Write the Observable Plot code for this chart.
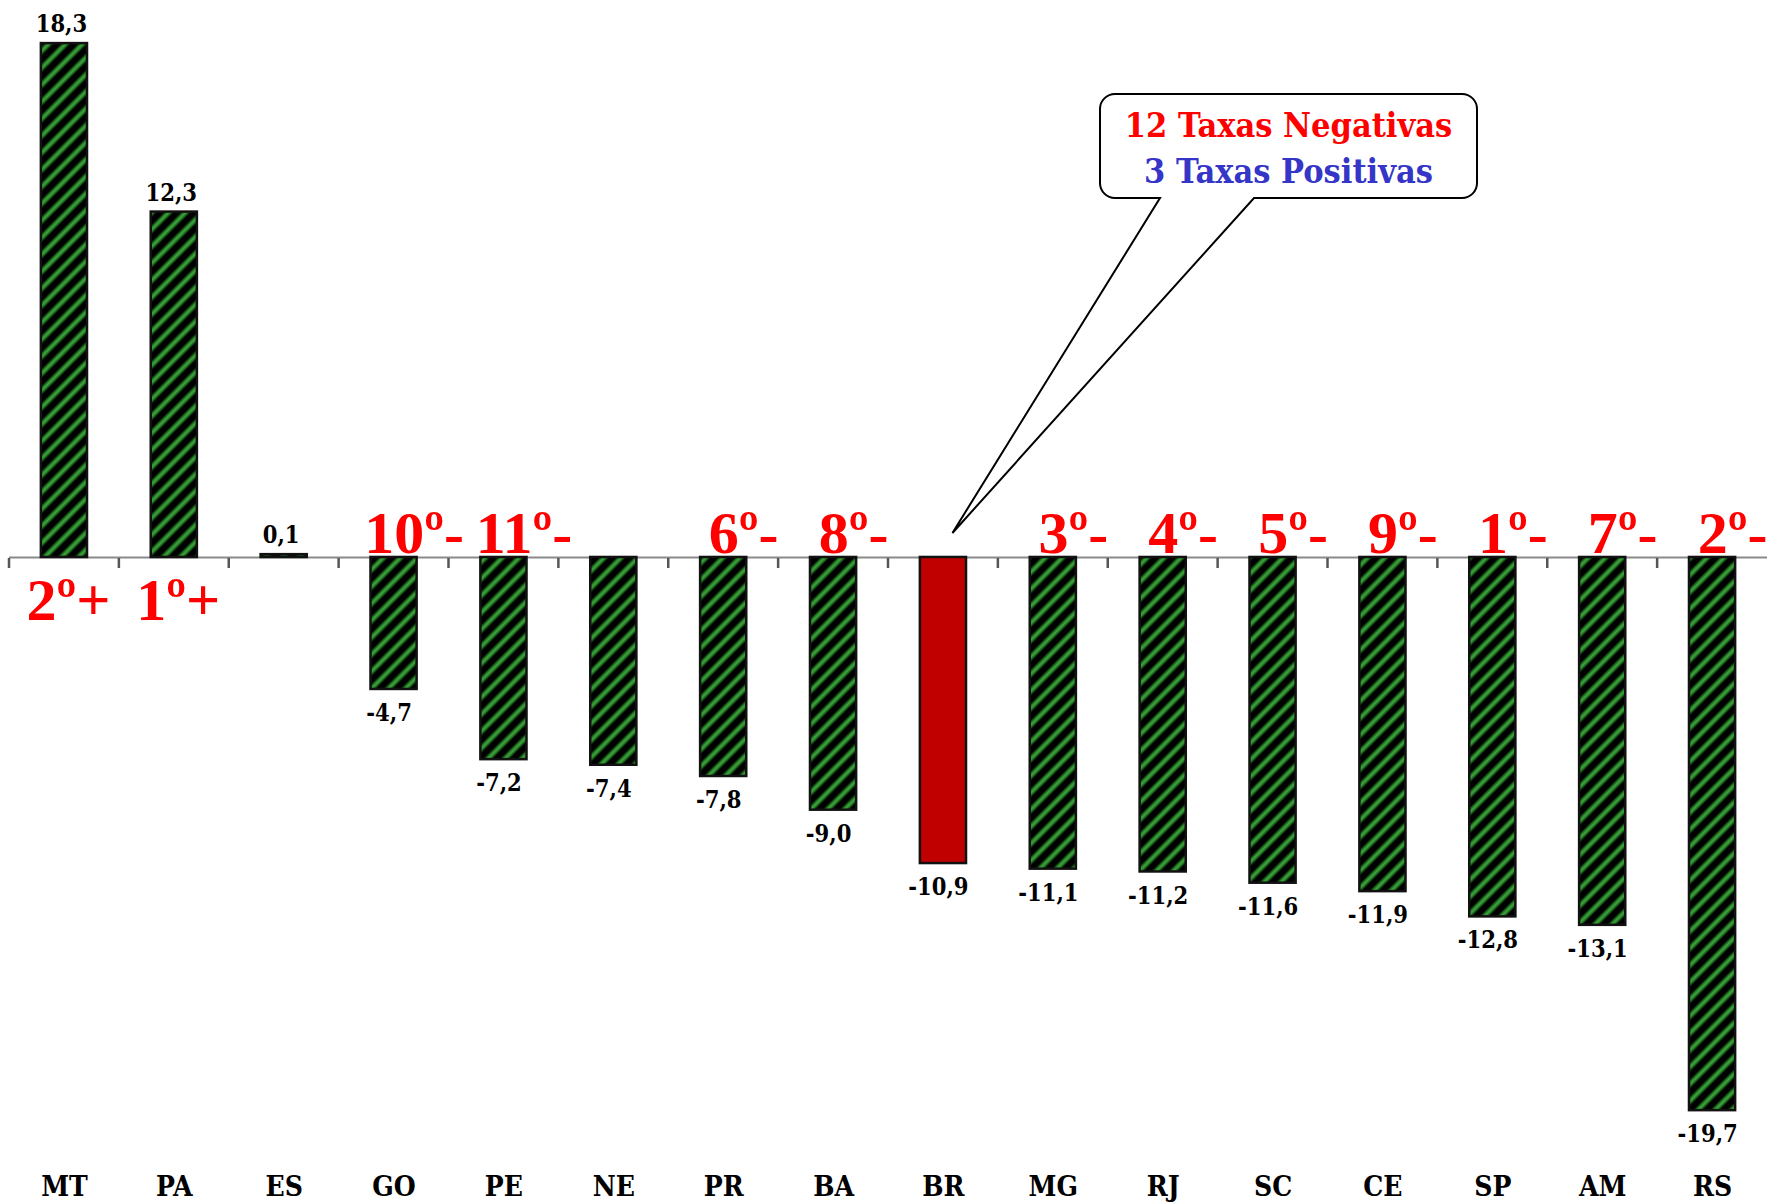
<!DOCTYPE html>
<html><head><meta charset="utf-8">
<script src="https://cdn.jsdelivr.net/npm/d3@7"></script>
<script src="https://cdn.jsdelivr.net/npm/@observablehq/plot@0.6"></script>
<style>
html,body{margin:0;padding:0;background:#fff;overflow:hidden;}
#chart svg{display:block;}
</style></head><body><div id="chart"></div>
<script>
const states = ["MT","PA","ES","GO","PE","NE","PR","BA","BR","MG","RJ","SC","CE","SP","AM","RS"];
const values = [18.3,12.3,0.1,-4.7,-7.2,-7.4,-7.8,-9.0,-10.9,-11.1,-11.2,-11.6,-11.9,-12.8,-13.1,-19.7];
const ranks = ["2º+","1º+","","10º-","11º-","","6º-","8º-","","3º-","4º-","5º-","9º-","1º-","7º-","2º-"];
const calloutLines = ["12 Taxas Negativas","3 Taxas Positivas"];
const calloutColors = ["#ff0000","#3535c8"];
const highlight = "BR";

const data = states.map((s,i)=>({state:s, value:values[i], rank:ranks[i],
  label: values[i].toFixed(1).replace(".", ",")}));

const W = 1767, H = 1204;
const padIn = 0.58, padOut = 0.29;
const serifC = "'DejaVu Serif Condensed','DejaVu Serif',serif";
const times = "'Liberation Serif','Times New Roman',serif";

const plot = Plot.plot({
  width: W, height: H,
  marginLeft: 9, marginRight: 0, marginTop: 9.4, marginBottom: 43.3,
  x: {domain: states, paddingInner: padIn, paddingOuter: padOut, align: 0.5, round: false},
  y: {domain: [-21.5, 19.5], axis: null},
  style: {background: "#fff"},
  marks: [
    Plot.ruleY([0], {stroke: "#8a8a8a", strokeWidth: 2}),
    Plot.barY(data.filter(d => d.state !== highlight), {x: "state", y: "value", fill: "url(#hatch)", stroke: "#111", strokeWidth: 2.5}),
    Plot.barY(data.filter(d => d.state === highlight), {x: "state", y: "value", fill: "#C00000", stroke: "#111", strokeWidth: 2.5}),
    Plot.text(data.filter(d => d.value >= 0), {x: "state", y: "value", text: "label", dy: -19, dx: -3,
      fontFamily: serifC, fontWeight: "bold", fontSize: 23.5, fill: "#000"}),
    Plot.text(data.filter(d => d.value < 0), {x: "state", y: "value", text: "label", dy: 24, dx: -5,
      fontFamily: serifC, fontWeight: "bold", fontSize: 23.5, fill: "#000"}),
    Plot.text(data.filter(d => d.rank && d.value < 0), {x: "state", y: 0, text: "rank", lineAnchor: "bottom", dy: -4, dx: 20,
      fontFamily: times, fontWeight: "bold", fontSize: 60, fill: "#ff0000"}),
    Plot.text(data.filter(d => d.rank && d.value > 0), {x: "state", y: 0, text: "rank", lineAnchor: "top", dy: 20, dx: 4,
      fontFamily: times, fontWeight: "bold", fontSize: 60, fill: "#ff0000"}),
    Plot.axisX({anchor: "bottom", tickSize: 0, tickPadding: 15, fontSize: 28, fontWeight: "bold",
      fontFamily: serifC, fill: "#000", label: null})
  ]
});

const svg = d3.select(plot);
const defs = svg.insert("defs", ":first-child");
const grad = defs.append("linearGradient").attr("id", "stripeGrad")
  .attr("x1", 0).attr("y1", 0).attr("x2", 0).attr("y2", 1);
[["0%","#000"],["22%","#1d6a1d"],["50%","#3fa83f"],["78%","#1d6a1d"],["100%","#000"]]
  .forEach(([o,c]) => grad.append("stop").attr("offset", o).attr("stop-color", c));
const P = 12;
const pat = defs.append("pattern").attr("id", "hatch").attr("patternUnits", "userSpaceOnUse")
  .attr("width", P).attr("height", P).attr("patternTransform", "rotate(-45)");
pat.append("rect").attr("width", P).attr("height", P).attr("fill", "#000");
pat.append("rect").attr("y", 2).attr("width", P).attr("height", 7).attr("fill", "url(#stripeGrad)");

const xs = plot.scale("x"), ys = plot.scale("y");
const y0px = ys.apply(0);
const bw = xs.bandwidth;
const step = bw / (1 - padIn);
// category boundary ticks below the axis
const tickG = svg.append("g").attr("stroke", "#555").attr("stroke-width", 2.5);
states.forEach(s => {
  const bx = xs.apply(s) + bw / 2 - step / 2;
  tickG.append("line").attr("x1", bx).attr("x2", bx).attr("y1", y0px + 1).attr("y2", y0px + 11);
});

// callout pointing at BR
const tipX = xs.apply(highlight) + bw / 2 + 9.5;
const tipY = y0px - 24;
const x0 = 1100, x1 = 1477, yt = 94, yb = 198, r = 15, b1 = 1160, b2 = 1254;
const path = `M${x0+r},${yt} H${x1-r} A${r},${r} 0 0 1 ${x1},${yt+r} V${yb-r} A${r},${r} 0 0 1 ${x1-r},${yb}`
  + ` H${b2} L${tipX},${tipY} L${b1},${yb} H${x0+r} A${r},${r} 0 0 1 ${x0},${yb-r} V${yt+r} A${r},${r} 0 0 1 ${x0+r},${yt} Z`;
svg.append("path").attr("d", path).attr("fill", "#fff").attr("stroke", "#000").attr("stroke-width", 2);
calloutLines.forEach((t, i) => {
  svg.append("text").attr("x", (x0 + x1) / 2).attr("y", 137 + i * 46)
    .attr("text-anchor", "middle").attr("font-family", serifC).attr("font-weight", "bold")
    .attr("font-size", 34).attr("fill", calloutColors[i]).text(t);
});

document.getElementById("chart").appendChild(plot);
</script></body></html>
